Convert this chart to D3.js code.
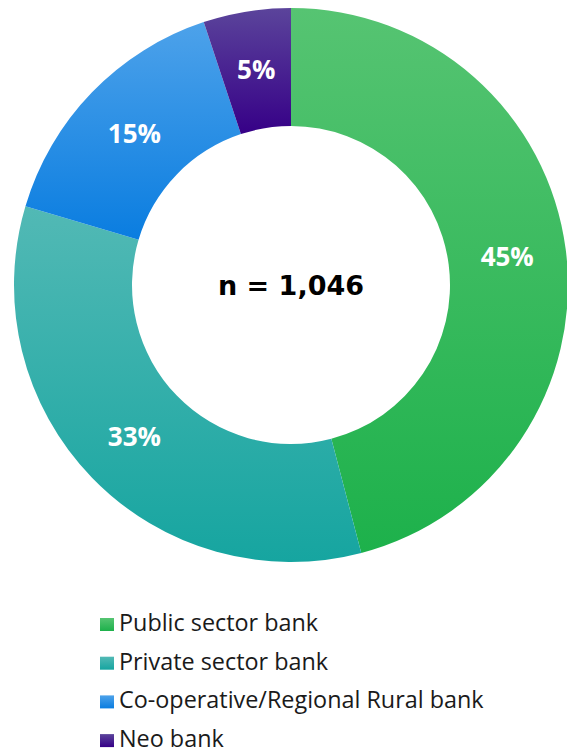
<!DOCTYPE html>
<html>
<head>
<meta charset="utf-8">
<script src="https://cdn.jsdelivr.net/npm/d3@7"></script>
<style>
  html, body { margin: 0; padding: 0; background: #fff; }
  svg { display: block; }
</style>
</head>
<body>
<svg id="chart" width="567" height="753"></svg>
<script>
// Bank type share of respondents
const categories = ["Public sector bank", "Private sector bank", "Co-operative/Regional Rural bank", "Neo bank"];
const shares = [45, 33, 15, 5];
const labels = ["45%", "33%", "15%", "5%"];
const sampleLabel = "n = 1,046";

// top / bottom gradient stops for each slice
const topColors = ["#56c472", "#52b9b5", "#4da2ea", "#5b449b"];
const bottomColors = ["#1db14b", "#16a5a0", "#0a7de0", "#360087"];

const svg = d3.select("#chart");
const cx = 291, cy = 285, outerR = 277, innerR = 159;

const defs = svg.append("defs");
categories.forEach((c, i) => {
  const g = defs.append("linearGradient")
    .attr("id", "grad" + i)
    .attr("x1", 0).attr("y1", 0).attr("x2", 0).attr("y2", 1);
  g.append("stop").attr("offset", "0%").attr("stop-color", topColors[i]);
  g.append("stop").attr("offset", "100%").attr("stop-color", bottomColors[i]);
});

const pie = d3.pie().sort(null).value(d => d);
const arcs = pie(shares);
const arc = d3.arc().innerRadius(innerR).outerRadius(outerR);
const labelArc = d3.arc().innerRadius((innerR + outerR) / 2).outerRadius((innerR + outerR) / 2);

const g = svg.append("g").attr("transform", `translate(${cx},${cy})`);

g.selectAll("path.slice")
  .data(arcs)
  .join("path")
  .attr("class", "slice")
  .attr("d", arc)
  .attr("fill", (d, i) => `url(#grad${i})`);

g.selectAll("text.pct")
  .data(arcs)
  .join("text")
  .attr("class", "pct")
  .attr("transform", d => `translate(${labelArc.centroid(d)})`)
  .attr("text-anchor", "middle")
  .attr("dy", "0.36em")
  .attr("fill", "#fff")
  .attr("font-family", "'Open Sans', sans-serif")
  .attr("font-weight", 700)
  .attr("font-size", 26)
  .text((d, i) => labels[i]);

g.append("text")
  .attr("text-anchor", "middle")
  .attr("dy", "0.36em")
  .attr("fill", "#000")
  .attr("font-family", "'DejaVu Sans', sans-serif")
  .attr("font-weight", 700)
  .attr("font-size", 27)
  .text(sampleLabel);

// Legend
const legendX = 100, legendY0 = 631, legendStep = 38.7;
const legend = svg.append("g");
const rows = legend.selectAll("g.row")
  .data(categories)
  .join("g")
  .attr("class", "row")
  .attr("transform", (d, i) => `translate(${legendX},${legendY0 + i * legendStep})`);

rows.append("rect")
  .attr("x", 0).attr("y", -13)
  .attr("width", 14).attr("height", 13)
  .attr("fill", (d, i) => `url(#grad${i})`);

const texts = rows.append("text")
  .attr("x", 19)
  .attr("y", 0)
  .attr("fill", "#1a1a1a")
  .attr("font-family", "'Open Sans', Lato, sans-serif")
  .attr("font-size", 21)
  .text(d => d);

// scale legend type so the longest entry spans the intended width
const longest = d3.max(texts.nodes(), n => n.getComputedTextLength());
const targetWidth = 365;
texts.attr("font-size", 21 * targetWidth / longest);
</script>
</body>
</html>
